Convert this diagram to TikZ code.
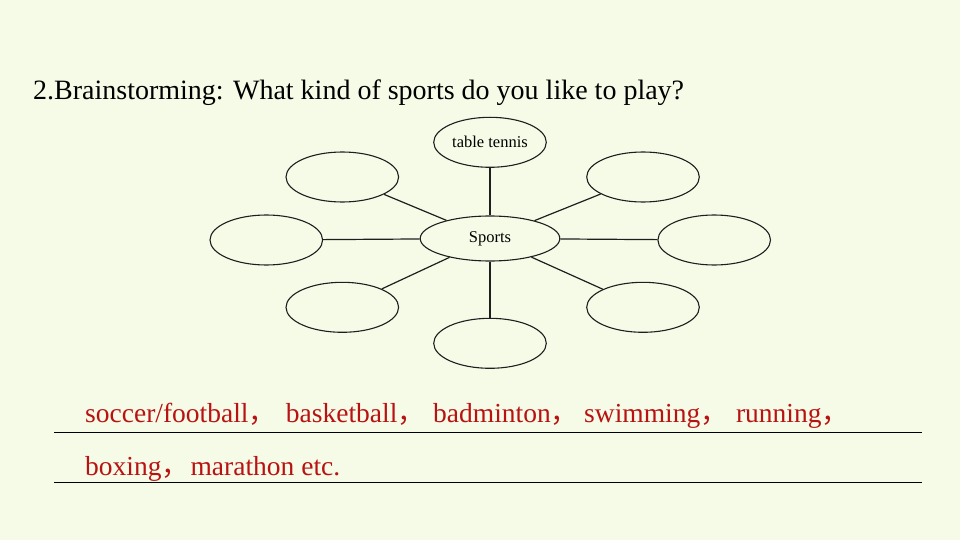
\documentclass[tikz,border=0pt]{standalone}
\usepackage{fontspec}
\setmainfont{Liberation Serif}
\newfontfamily\cjk{Noto Sans CJK SC}
\usetikzlibrary{shapes.geometric}
\definecolor{bg}{RGB}{245,251,231}
\definecolor{ans}{RGB}{185,18,18}
\definecolor{ink}{RGB}{30,30,30}
\newcommand{\fc}{{\cjk ，}}
\begin{document}
\begin{tikzpicture}[x=1pt,y=-1pt,
  bub/.style={draw=ink, line width=1.1pt, ellipse, inner sep=0pt,
    minimum width=112.6pt, minimum height=50pt, font=\fontsize{16.5}{16.5}\selectfont},
  link/.style={draw=ink, line width=1.2pt},
  word/.style={anchor=base west, inner sep=0pt, text=ans,
    font=\fontsize{27.5}{30}\selectfont},
  rulel/.style={draw=black, line width=1pt}]
\fill[bg] (0,0) rectangle (960,540);
\useasboundingbox (0,0) rectangle (960,540);
% title
\node[anchor=base west, inner sep=0pt, font=\fontsize{28}{30}\selectfont]
  (title) at (33,100) {2.Brainstorming: What kind of sports do you like to play?};
% bubbles
\node[bub, minimum width=139.6pt, minimum height=45pt] (sp) at (490,238.5) {Sports};
\node[bub] (tt) at (490,142.3) {table tennis};
\node[bub] (ul) at (342.3,177) {};
\node[bub] (ur) at (643,177) {};
\node[bub] (l)  at (266.3,240) {};
\node[bub] (r)  at (714.2,240) {};
\node[bub] (ll) at (342.3,307.3) {};
\node[bub] (lr) at (643,307.3) {};
\node[bub] (b)  at (490,343.3) {};
% links
\draw[link] (tt) -- (sp);
\draw[link] (b) -- (sp);
\draw[link] (l) -- (sp);
\draw[link] (r) -- (sp);
\draw[link] (ul) -- (sp);
\draw[link] (ur) -- (sp);
\draw[link] (ll) -- (sp);
\draw[link] (lr) -- (sp);
% answers
\node[word] (w1) at (85,422.5) {soccer/football\fc};
\node[word] (w2) at (285.7,422.5) {basketball\fc};
\node[word] (w3) at (433,422.5) {badminton\fc};
\node[word] (w4) at (584,422.5) {swimming\fc};
\node[word] (w5) at (735.8,422.5) {running\fc};
\node[word] (w6) at (85,475) {boxing\fc};
\node[word] (w7) at (190.4,475) {marathon etc.};
% rules
\coordinate (r1a) at (54,432.3);
\coordinate (r1b) at (922,432.3);
\coordinate (r2a) at (54,482.3);
\coordinate (r2b) at (922,482.3);
\draw[rulel] (r1a) -- (r1b);
\draw[rulel] (r2a) -- (r2b);
\end{tikzpicture}
\end{document}
